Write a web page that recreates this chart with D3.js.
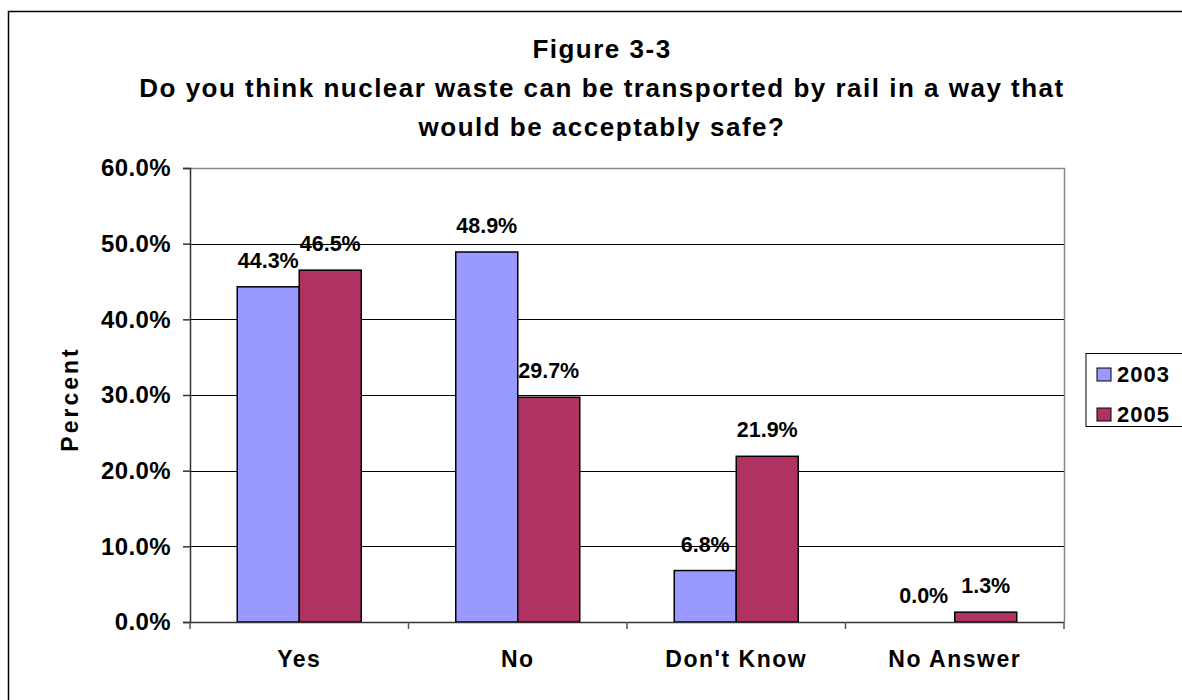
<!DOCTYPE html>
<html><head><meta charset="utf-8">
<script src="https://d3js.org/d3.v7.min.js"></script>
<style>body{margin:0;background:#fff;} text{font-family:"Liberation Sans",Arial,sans-serif;font-weight:bold;fill:#000;}</style>
</head><body>
<svg id="c" width="1182" height="700"></svg>
<script>
const categories = ["Yes", "No", "Don't Know", "No Answer"];
const seriesNames = ["2003", "2005"];
const values2003 = [44.3, 48.9, 6.8, 0.0];
const values2005 = [46.5, 29.7, 21.9, 1.3];
const colors = ["#9999FF", "#B03262"];
const yTicks = [0, 10, 20, 30, 40, 50, 60];
const titleLines = ["Figure 3-3", "Do you think nuclear waste can be transported by rail in a way that", "would be acceptably safe?"];

const svg = d3.select("#c");
svg.append("rect").attr("x", 8.5).attr("y", 11.5).attr("width", 1200).attr("height", 720)
  .attr("fill", "none").attr("stroke", "#000").attr("stroke-width", 1.5);

const L = 190, R = 1064, T = 168, B = 622;
const x = d3.scaleBand().domain(categories).range([L, R]);
const y = d3.scaleLinear().domain([0, 60]).range([B, T]);
const barW = 62;

const g = svg.append("g");
g.selectAll("line.grid").data(yTicks.filter(d => d > 0 && d < 60)).enter().append("line")
  .attr("x1", L).attr("x2", R).attr("y1", d => Math.round(y(d)) + 0.5).attr("y2", d => Math.round(y(d)) + 0.5)
  .attr("stroke", "#000").attr("stroke-width", 1);
g.append("path").attr("d", `M${L},${T + 0.5}H${R + 0.5}V${B}`).attr("fill", "none").attr("stroke", "#888").attr("stroke-width", 1.5);

const series = [values2003, values2005];
series.forEach((vals, si) => {
  g.selectAll(null).data(categories).enter().append("rect")
    .attr("x", c => x(c) + x.bandwidth() / 2 - barW + si * barW)
    .attr("y", (c, i) => y(vals[i]))
    .attr("width", barW)
    .attr("height", (c, i) => B - y(vals[i]))
    .attr("fill", colors[si]).attr("stroke", "#000").attr("stroke-width", 1.5)
    .style("display", (c, i) => vals[i] === 0 ? "none" : null);
  g.selectAll(null).data(categories).enter().append("text")
    .attr("x", c => x(c) + x.bandwidth() / 2 - barW / 2 + si * barW)
    .attr("y", (c, i) => y(vals[i]) - 19)
    .attr("text-anchor", "middle").attr("font-size", 21.5)
    .text((c, i) => vals[i].toFixed(1) + "%");
});

const yAxis = d3.axisLeft(y).tickValues(yTicks).tickSize(7).tickFormat(d => d.toFixed(1) + "%");
const ya = svg.append("g").attr("transform", `translate(${L},0)`).call(yAxis);
ya.select(".domain").attr("stroke", "#333").attr("stroke-width", 1.5);
ya.selectAll(".tick line").attr("stroke", "#333").attr("stroke-width", 1.5);
ya.selectAll(".tick text").attr("font-size", 24).attr("x", -19).attr("fill", "#000")
  .style("font-family", "Liberation Sans, Arial, sans-serif").style("font-weight", "bold").style("letter-spacing", "0.4px");

const xa = svg.append("g").attr("transform", `translate(0,${B})`);
xa.append("line").attr("x1", L).attr("x2", R).attr("y1", 0.5).attr("y2", 0.5).attr("stroke", "#333").attr("stroke-width", 1.5);
const bounds = categories.map(c => x(c)).concat([R]);
xa.selectAll("line.tk").data(bounds).enter().append("line")
  .attr("x1", d => d).attr("x2", d => d).attr("y1", 0).attr("y2", 7).attr("stroke", "#555").attr("stroke-width", 1.5);
xa.selectAll("text").data(categories).enter().append("text")
  .attr("x", c => x(c) + x.bandwidth() / 2).attr("y", 45).attr("text-anchor", "middle").attr("font-size", 23)
  .style("letter-spacing", "1.5px").text(c => c);

svg.append("text").attr("transform", "translate(78,399) rotate(-90)").attr("text-anchor", "middle").attr("font-size", 23)
  .style("letter-spacing", "3px").text("Percent");

svg.selectAll("text.title").data(titleLines).enter().append("text").attr("class", "title")
  .attr("x", 602).attr("y", (d, i) => 58 + i * 39).attr("text-anchor", "middle").attr("font-size", 26)
  .style("letter-spacing", "1.5px").text(d => d);

const lg = svg.append("g");
lg.append("rect").attr("x", 1086).attr("y", 353.5).attr("width", 100).attr("height", 73).attr("fill", "#fff").attr("stroke", "#000").attr("stroke-width", 1);
seriesNames.forEach((s, i) => {
  lg.append("rect").attr("x", 1097).attr("y", 368 + i * 40).attr("width", 14).attr("height", 13).attr("fill", colors[i]).attr("stroke", "#000").attr("stroke-width", 1);
  lg.append("text").attr("x", 1117).attr("y", 382 + i * 40).attr("font-size", 22).style("letter-spacing", "1px").text(s);
});
</script>
</body></html>
